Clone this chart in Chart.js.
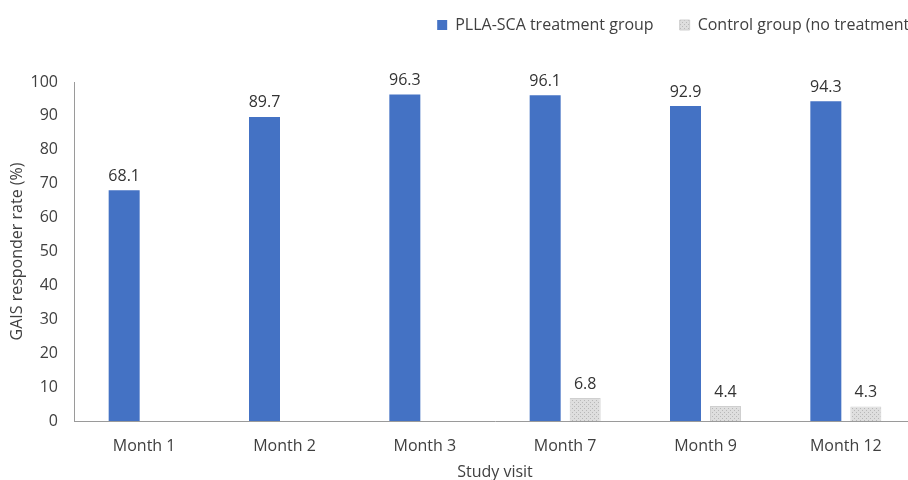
<!DOCTYPE html>
<html lang="en">
<head>
    <meta charset="UTF-8">
    <title>GAIS responder rate</title>
    <script src="https://cdn.jsdelivr.net/npm/chart.js"></script>
    <style>
        body { margin: 0; overflow: hidden; background: #fff; }
        #wrap { width: 926px; height: 480px; }
    </style>
</head>
<body>

<div id="wrap"><canvas id="myChart"></canvas></div>

<script>
    // Datos
    const categories = ['Month 1', 'Month 2', 'Month 3', 'Month 7', 'Month 9', 'Month 12'];
    const treatmentValues = [68.1, 89.7, 96.3, 96.1, 92.9, 94.3];
    const controlValues = [null, null, null, 6.8, 4.4, 4.3];
    const yTicks = [0, 10, 20, 30, 40, 50, 60, 70, 80, 90, 100];

    const textColor = '#404040';
    const fontFamily = '"Open Sans", sans-serif';

    // Relleno punteado para el grupo control
    function makePattern() {
        const c = document.createElement('canvas');
        c.width = 4; c.height = 4;
        const g = c.getContext('2d');
        g.fillStyle = '#dedede';
        g.fillRect(0, 0, 4, 4);
        g.fillStyle = '#b8b8b8';
        g.fillRect(0, 0, 1, 1);
        g.fillRect(2, 2, 1, 1);
        return g.createPattern(c, 'repeat');
    }
    const grayPattern = makePattern();

    // Etiquetas de valor encima de las barras
    const valueLabels = {
        id: 'valueLabels',
        afterDatasetsDraw(chart) {
            const ctx = chart.ctx;
            ctx.save();
            ctx.font = '16px ' + fontFamily;
            ctx.fillStyle = '#333333';
            ctx.textAlign = 'center';
            ctx.textBaseline = 'bottom';
            chart.data.datasets.forEach((ds, i) => {
                chart.getDatasetMeta(i).data.forEach((bar, j) => {
                    const v = ds.data[j];
                    if (v === null) return;
                    ctx.fillText(v.toFixed(1), bar.x, bar.y - 6);
                });
            });
            ctx.restore();
        }
    };

    // Espacio extra debajo de la leyenda y leyenda un poco a la derecha
    const legendGap = {
        id: 'legendGap',
        beforeInit(chart) {
            const fit = chart.legend.fit;
            chart.legend.fit = function () {
                fit.bind(chart.legend)();
                this.height += 39;
            };
        },
        afterLayout(chart) {
            chart.legend.left += 24;
            chart.legend.right += 24;
        }
    };

    const ctx = document.getElementById('myChart').getContext('2d');
    new Chart(ctx, {
        type: 'bar',
        data: {
            labels: categories,
            datasets: [{
                label: 'PLLA-SCA treatment group',
                data: treatmentValues,
                backgroundColor: '#4472C4',
                categoryPercentage: 0.57,
                barPercentage: 0.775
            }, {
                label: 'Control group (no treatment)',
                data: controlValues,
                backgroundColor: grayPattern,
                borderColor: '#cfcfcf',
                borderWidth: 1,
                categoryPercentage: 0.57,
                barPercentage: 0.775
            }]
        },
        options: {
            responsive: true,
            maintainAspectRatio: false,
            animation: false,
            layout: { padding: { top: -9, right: 10, bottom: -2, left: 8 } },
            plugins: {
                legend: {
                    position: 'top',
                    align: 'end',
                    labels: {
                        boxWidth: 10,
                        boxHeight: 10,
                        padding: 26,
                        color: textColor,
                        font: { family: fontFamily, size: 16 }
                    }
                },
                tooltip: { enabled: false }
            },
            scales: {
                x: {
                    afterFit(axis) { axis.height = 61; },
                    grid: { display: false, drawTicks: false },
                    border: { color: '#9a9a9a' },
                    ticks: { color: textColor, font: { family: fontFamily, size: 16 }, padding: 16 },
                    title: {
                        display: true,
                        text: 'Study visit',
                        color: textColor,
                        font: { family: fontFamily, size: 16 },
                        padding: { top: 0, bottom: 0 }
                    }
                },
                y: {
                    min: 0,
                    max: 100,
                    afterBuildTicks(axis) {
                        axis.ticks = yTicks.map(v => ({ value: v }));
                    },
                    afterFit(axis) { axis.width = 66; },
                    grid: { display: false, drawTicks: false },
                    border: { color: '#9a9a9a' },
                    ticks: { color: textColor, font: { family: fontFamily, size: 16 }, padding: 16 },
                    title: {
                        display: true,
                        text: 'GAIS responder rate (%)',
                        color: textColor,
                        font: { family: fontFamily, size: 16 },
                        padding: { top: 0, bottom: 0 }
                    }
                }
            }
        },
        plugins: [valueLabels, legendGap]
    });
</script>
</body>
</html>
